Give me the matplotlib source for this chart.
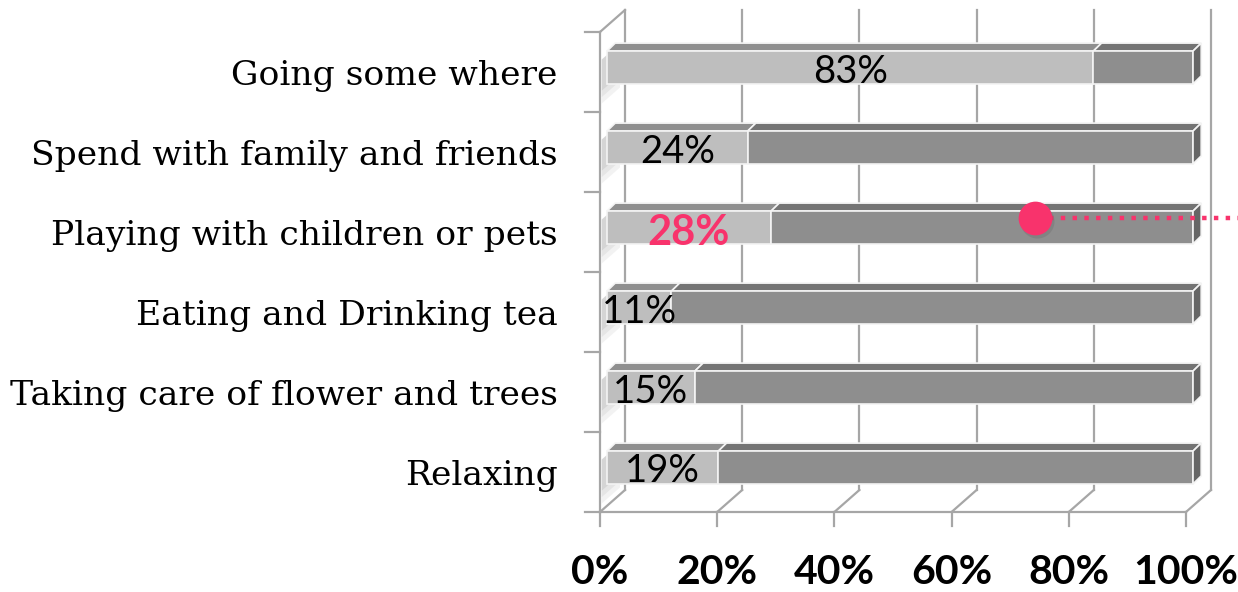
import matplotlib
matplotlib.use('Agg')
import matplotlib.pyplot as plt
from matplotlib.patches import Polygon

# data
categories = ['Relaxing', 'Taking care of flower and trees', 'Eating and Drinking tea',
              'Playing with children or pets', 'Spend with family and friends', 'Going some where']
yes_vals = [19, 15, 11, 28, 24, 83]
no_vals = [81, 85, 89, 72, 76, 17]
xticks = [0, 20, 40, 60, 80, 100]
xtick_labels = ['0%', '20%', '40%', '60%', '80%', '100%']
highlight = 'Playing with children or pets'
marker_x = 74.3

pink = '#F8336C'
grid_c = '#A6A6A6'
edge_c = '#F4F4F4'

# fake 3d geometry (data units: % on x, category rows on y)
px_x = 5.86          # pixels per percent
px_y = 80.0          # pixels per row
dx, dy = 25 / px_x, 22 / px_y      # depth of the box
floor = -0.556
top = floor + len(categories)
f0 = 0.28            # where the bar front sits in depth
tdx, tdy = 1.4, 0.1  # bar top thickness
h = 0.41             # bar face height

fig = plt.figure(figsize=(12.38, 5.92), dpi=100)
ax = fig.add_axes([0, 0, 1, 1])
ax.set_xlim(-600 / px_x, (1238 - 600) / px_x)
ax.set_ylim((467.5 - 592) / px_y, 467.5 / px_y)
ax.axis('off')

lw = 1.6
# back wall gridlines
for t in xticks:
    ax.plot([t + dx, t + dx], [floor + dy, top + dy], color=grid_c, lw=lw, zorder=1)
    ax.plot([t, t + dx], [floor, floor + dy], color=grid_c, lw=lw, zorder=1)
    ax.plot([t, t], [floor, floor - 0.17], color=grid_c, lw=lw, zorder=1)
# floor front edge, left wall
ax.plot([0, 100], [floor, floor], color=grid_c, lw=lw, zorder=1)
ax.plot([0, 0], [floor, top], color=grid_c, lw=lw, zorder=1)
ax.plot([0, dx], [top, top + dy], color=grid_c, lw=lw, zorder=1)
for k in range(len(categories) + 1):
    ax.plot([-2.6, 0], [floor + k, floor + k], color=grid_c, lw=lw, zorder=1)

# left wall shading behind each bar
for i in range(len(categories)):
    for j, a in enumerate([0.07, 0.08, 0.1]):
        ax.add_patch(Polygon([(0.3, i - 0.45 + j * 0.08), (dx * 0.8, i - 0.25 + j * 0.08),
                              (dx * 0.8, i + 0.3), (0.3, i + 0.1)],
                             closed=True, color='#505050', alpha=a, lw=0, zorder=1.5))

# bars
for i, (cat, a, b) in enumerate(zip(categories, yes_vals, no_vals)):
    x0 = f0 * dx
    segs = [(x0, a, '#BEBEBE', '#8F8F8F'), (x0 + a, b, '#8E8E8E', '#747474')]
    for xs, w, cf, ct in segs:
        front = [(xs, i - h / 2), (xs + w, i - h / 2), (xs + w, i + h / 2), (xs, i + h / 2)]
        topf = [(xs, i + h / 2), (xs + w, i + h / 2), (xs + w + tdx, i + h / 2 + tdy),
                (xs + tdx, i + h / 2 + tdy)]
        ax.add_patch(Polygon(topf, closed=True, fc=ct, ec=edge_c, lw=1.2, zorder=3))
        ax.add_patch(Polygon(front, closed=True, fc=cf, ec=edge_c, lw=1.2, zorder=3))
    xe = x0 + a + b
    end = [(xe, i - h / 2), (xe + tdx, i - h / 2 + tdy), (xe + tdx, i + h / 2 + tdy), (xe, i + h / 2)]
    ax.add_patch(Polygon(end, closed=True, fc='#666666', ec=edge_c, lw=1.2, zorder=3))

    if cat == highlight:
        ax.text(x0 + a / 2, i - 0.07, f'{a}%', ha='center', va='center', fontsize=30,
                family='Lato', fontweight='bold', color=pink, zorder=5)
    else:
        ax.text(x0 + a / 2, i - 0.05, f'{a}%', ha='center', va='center', fontsize=27.5,
                family='Lato', color='black', zorder=5)
    ax.text(-7.2, i - 0.11, cat, ha='right', va='center', fontsize=24.8,
            family='DejaVu Serif', color='black')

# x tick labels
for t, lab in zip(xticks, xtick_labels):
    ax.text(t, -1.31, lab, ha='center', va='center', fontsize=29.5, family='Lato',
            fontweight='bold', color='black')

# pink marker with dotted leader
hi = categories.index(highlight)
ax.plot([marker_x + 2.3, 110], [hi + 0.12, hi + 0.12], color=pink, lw=3.2,
        dashes=(1, 1.65), dash_capstyle='butt', zorder=6, clip_on=False)
ax.scatter([marker_x + 0.35], [hi + 0.08], s=600, color='#606060', alpha=0.25, lw=0, zorder=6)
ax.scatter([marker_x], [hi + 0.12], s=590, color=pink, lw=0, zorder=7)

plt.savefig('out.png', dpi=100)
